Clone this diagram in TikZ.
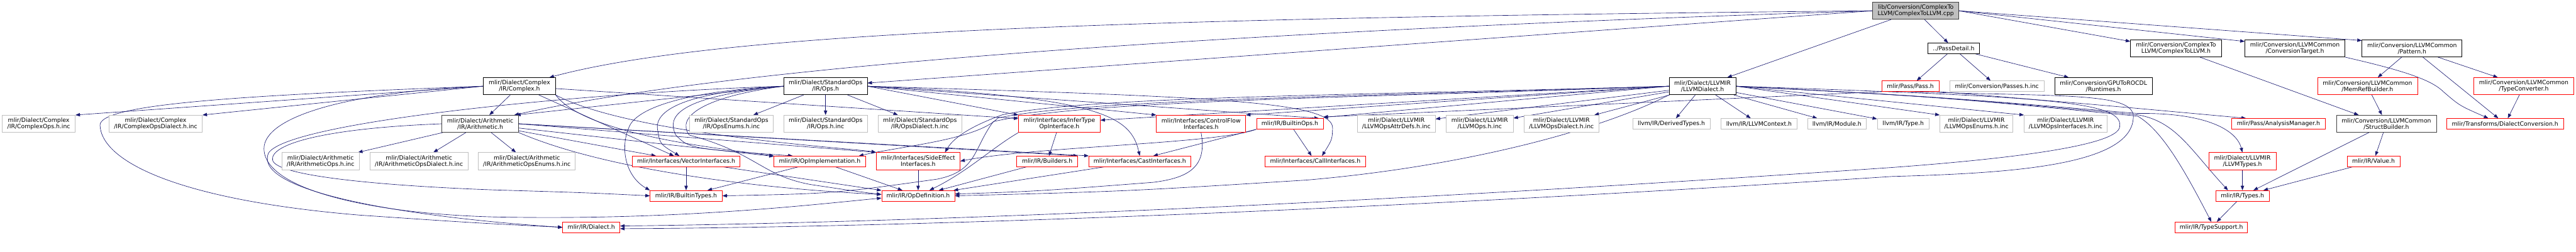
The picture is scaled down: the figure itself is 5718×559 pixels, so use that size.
\documentclass[tikz,border=0pt]{standalone}
\usepackage{fontspec}
\setmainfont{DejaVu Sans}
\usetikzlibrary{arrows.meta}
\definecolor{MidnightBlue}{RGB}{25,25,112}
\definecolor{DoxyGrey}{RGB}{191,191,191}
\definecolor{DoxyDark}{RGB}{64,64,64}
\definecolor{DoxyRed}{RGB}{255,0,0}
\pgfdeclarelayer{edges}
\pgfsetlayers{edges,main}
\tikzset{
  file/.style={rectangle,draw,fill=white,line width=1pt,inner xsep=3pt,inner ysep=1pt,
    align=center,font=\fontsize{13}{14}\selectfont},
  one/.style={minimum height=23.5pt},
  two/.style={minimum height=38pt},
  extfile/.style={file,draw=DoxyGrey},
  docfile/.style={file,draw=black},
  darkfile/.style={file,draw=DoxyDark},
  cutfile/.style={file,draw=DoxyRed},
  rootfile/.style={file,draw=DoxyDark,fill=DoxyGrey},
  dep/.style={->,MidnightBlue,line width=0.9pt},
}

\begin{document}
\begin{tikzpicture}[x=1pt,y=-1pt,>={Triangle[length=10pt,width=7.5pt]}]
\useasboundingbox (0,0) rectangle (5718,559);

\node[rootfile,two,minimum width=191pt] (m) at (4252.5,24) {lib/Conversion/ComplexTo\\LLVM/ComplexToLLVM.cpp};

\node[docfile,one,minimum width=115pt] (pd) at (4336.5,107.5) {../PassDetail.h};
\node[docfile,two,minimum width=202pt] (c2l) at (4830,107.5) {mlir/Conversion/ComplexTo\\LLVM/ComplexToLLVM.h};
\node[docfile,two,minimum width=222pt] (ct) at (5094,107.5) {mlir/Conversion/LLVMCommon\\/ConversionTarget.h};
\node[docfile,two,minimum width=222pt] (pat) at (5354,107.5) {mlir/Conversion/LLVMCommon\\/Pattern.h};

\node[docfile,two,minimum width=160pt] (cx) at (1153,191.5) {mlir/Dialect/Complex\\/IR/Complex.h};
\node[docfile,two,minimum width=185pt] (sops) at (1832.5,191.5) {mlir/Dialect/StandardOps\\/IR/Ops.h};
\node[docfile,two,minimum width=148pt] (lld) at (3779,191.5) {mlir/Dialect/LLVMIR\\/LLVMDialect.h};
\node[cutfile,one,minimum width=127pt] (pass) at (4240.5,191.5) {mlir/Pass/Pass.h};
\node[extfile,one,minimum width=209pt] (passinc) at (4432.5,191.5) {mlir/Conversion/Passes.h.inc};
\node[docfile,two,minimum width=216pt] (rt) at (4669,191.5) {mlir/Conversion/GPUToROCDL\\/Runtimes.h};
\node[cutfile,two,minimum width=222pt] (mrb) at (5255,191.5) {mlir/Conversion/LLVMCommon\\/MemRefBuilder.h};
\node[cutfile,two,minimum width=222pt] (tc) at (5602,191.5) {mlir/Conversion/LLVMCommon\\/TypeConverter.h};

\node[extfile,two,minimum width=162pt] (cops) at (86,275) {mlir/Dialect/Complex\\/IR/ComplexOps.h.inc};
\node[extfile,two,minimum width=207pt] (copsd) at (345.5,275) {mlir/Dialect/Complex\\/IR/ComplexOpsDialect.h.inc};
\node[darkfile,two,minimum width=170pt] (ar) at (1066,275) {mlir/Dialect/Arithmetic\\/IR/Arithmetic.h};
\node[extfile,two,minimum width=185pt] (opse) at (1623.5,275) {mlir/Dialect/StandardOps\\/IR/OpsEnums.h.inc};
\node[extfile,two,minimum width=185pt] (opsinc) at (1832.5,275) {mlir/Dialect/StandardOps\\/IR/Ops.h.inc};
\node[extfile,two,minimum width=186pt] (opsd) at (2042,275) {mlir/Dialect/StandardOps\\/IR/OpsDialect.h.inc};
\node[cutfile,two,minimum width=181pt] (infer) at (2351.5,275) {mlir/Interfaces/InferType\\OpInterface.h};
\node[cutfile,two,minimum width=198pt] (cf) at (2666,275) {mlir/Interfaces/ControlFlow\\Interfaces.h};
\node[cutfile,one,minimum width=148pt] (bops) at (2863,275) {mlir/IR/BuiltinOps.h};
\node[extfile,two,minimum width=173pt] (attr) at (3099.5,275) {mlir/Dialect/LLVMIR\\/LLVMOpsAttrDefs.h.inc};
\node[extfile,two,minimum width=149pt] (lops) at (3284.5,275) {mlir/Dialect/LLVMIR\\/LLVMOps.h.inc};
\node[extfile,two,minimum width=166pt] (lopsd) at (3466,275) {mlir/Dialect/LLVMIR\\/LLVMOpsDialect.h.inc};
\node[extfile,one,minimum width=172pt] (dty) at (3710,275) {llvm/IR/DerivedTypes.h};
\node[extfile,one,minimum width=169pt] (ctx) at (3904.5,275) {llvm/IR/LLVMContext.h};
\node[extfile,one,minimum width=131pt] (mod) at (4077.5,275) {llvm/IR/Module.h};
\node[extfile,one,minimum width=115pt] (ty) at (4224.5,275) {llvm/IR/Type.h};
\node[extfile,two,minimum width=162pt] (lenum) at (4387,275) {mlir/Dialect/LLVMIR\\/LLVMOpsEnums.h.inc};
\node[extfile,two,minimum width=184pt] (lif) at (4585,275) {mlir/Dialect/LLVMIR\\/LLVMOpsInterfaces.h.inc};
\node[cutfile,one,minimum width=207pt] (am) at (5057.5,275) {mlir/Pass/AnalysisManager.h};
\node[darkfile,two,minimum width=222pt] (sb) at (5297,275) {mlir/Conversion/LLVMCommon\\/StructBuilder.h};
\node[cutfile,one,minimum width=259pt] (dc) at (5560.5,275) {mlir/Transforms/DialectConversion.h};

\node[extfile,two,minimum width=171pt] (arops) at (711.5,358) {mlir/Dialect/Arithmetic\\/IR/ArithmeticOps.h.inc};
\node[extfile,two,minimum width=218pt] (aropsd) at (930,358) {mlir/Dialect/Arithmetic\\/IR/ArithmeticOpsDialect.h.inc};
\node[extfile,two,minimum width=215pt] (arope) at (1169.5,358) {mlir/Dialect/Arithmetic\\/IR/ArithmeticOpsEnums.h.inc};
\node[cutfile,one,minimum width=238pt] (vec) at (1523,358.5) {mlir/Interfaces/VectorInterfaces.h};
\node[cutfile,one,minimum width=203pt] (opimpl) at (1819.5,358.5) {mlir/IR/OpImplementation.h};
\node[cutfile,two,minimum width=186pt] (side) at (2038,358) {mlir/Interfaces/SideEffect\\Interfaces.h};
\node[cutfile,one,minimum width=135pt] (bld) at (2324.5,358.5) {mlir/IR/Builders.h};
\node[cutfile,one,minimum width=226pt] (cast) at (2530,358.5) {mlir/Interfaces/CastInterfaces.h};
\node[cutfile,one,minimum width=223pt] (call) at (2919.5,358.5) {mlir/Interfaces/CallInterfaces.h};
\node[cutfile,two,minimum width=149pt] (lty) at (4977.5,358) {mlir/Dialect/LLVMIR\\/LLVMTypes.h};
\node[cutfile,one,minimum width=117pt] (val) at (5268.5,358.5) {mlir/IR/Value.h};

\node[cutfile,one,minimum width=160pt] (bt) at (1523,435) {mlir/IR/BuiltinTypes.h};
\node[cutfile,one,minimum width=162pt] (opdef) at (2038,435) {mlir/IR/OpDefinition.h};
\node[cutfile,one,minimum width=119pt] (types) at (4977.5,435) {mlir/IR/Types.h};

\node[cutfile,one,minimum width=127pt] (dia) at (1312.5,505) {mlir/IR/Dialect.h};
\node[cutfile,one,minimum width=161pt] (tsup) at (4908.5,505) {mlir/IR/TypeSupport.h};

\begin{pgfonlayer}{edges}
% source file
\draw[dep] (m.west) .. controls (2500,40) and (1600,70) .. ([xshift=-14pt]cx.north east);
\draw[dep] (m.west) .. controls (3000,60) and (1700,130) .. ([xshift=-10pt]ar.north east);
\draw[dep] (m.west) -- ([yshift=7pt]sops.east);
\draw[dep] (m) -- (lld);
\draw[dep] (m) -- (pd);
\draw[dep] (m.east) -- ([yshift=-4pt]c2l.north west);
\draw[dep] (m.east) -- ([yshift=-4pt]ct.north west);
\draw[dep] (m.east) -- ([yshift=-2pt]pat.north west);

\foreach \dst in {pass,passinc,rt} \draw[dep] (pd) -- (\dst);

% Complex.h
\draw[dep] (cx.west) -- (cops.north east);
\draw[dep] (cx.west) -- (copsd.north east);
\draw[dep] (cx) -- (ar);
\draw[dep] (cx) -- (vec);
\draw[dep] (cx) -- ([yshift=-8pt]infer.north west);
\draw[dep] (cx.south east) .. controls (1300,300) and (1600,330) .. (opimpl.north west);
\draw[dep] (cx.south east) .. controls (1400,300) and (1900,330) .. (side.north west);
\draw[dep] (cx.west) .. controls (520,212) and (222,232) .. (222,278)
  .. controls (225,360) and (400,445) .. (800,478) .. controls (1050,495) .. (dia.west);
\draw[dep] (cx.west) .. controls (760,205) and (586,262) .. (586,330)
  .. controls (586,420) and (820,475) .. (1100,482)
  .. controls (1500,490) and (1800,455) .. ([yshift=-5pt]opdef.west);

% Arithmetic.h
\foreach \dst in {arops,aropsd,arope,vec,opimpl} \draw[dep] (ar) -- (\dst);
\draw[dep] (ar.east) -- (side.north west);
\draw[dep] (ar.east) -- (bld.north east);
\draw[dep] (ar.east) -- (cast.north west);
\draw[dep] (ar.west) .. controls (720,285) and (600,320) .. (605,355)
  .. controls (610,395) and (900,415) .. (1100,422) .. controls (1300,428) .. (bt.west);
\draw[dep] (ar.south east) .. controls (1350,380) and (1700,420) .. ([yshift=3pt]opdef.west);

% StandardOps/IR/Ops.h
\foreach \dst in {opse,opsinc,opsd} \draw[dep] (sops) -- (\dst);
\draw[dep] (sops.west) -- ([xshift=-6pt]ar.north east);
\draw[dep] (sops.east) -- (infer.north west);
\draw[dep] (sops.east) -- (cf.north west);
\draw[dep] (sops.east) -- ([xshift=-10pt]bops.north east);
\draw[dep] (sops.east) .. controls (2450,215) and (2510,260) .. (cast.north);
\draw[dep] (sops.east) .. controls (2700,215) and (2960,225) .. (2958,285)
  .. controls (2957,310) .. ([xshift=15pt]call.north);
\draw[dep] (sops.west) .. controls (1300,205) and (640,270) .. (596,340)
  .. controls (560,425) and (900,482) .. (dia.west);
\draw[dep] (sops.west) .. controls (1520,205) and (1450,245) .. (1460,290)
  .. controls (1465,320) .. ([xshift=-15pt]vec.north);
\draw[dep] (sops.west) .. controls (1500,215) and (1480,260) .. (1500,300)
  .. controls (1530,330) .. ([xshift=-60pt]opimpl.north);
\draw[dep] (sops.west) .. controls (1560,200) and (1430,230) .. (1400,275)
  .. controls (1375,320) and (1385,390) .. (bt.north west);
\draw[dep] (sops.west) .. controls (1560,215) and (1500,260) .. (1530,300)
  .. controls (1680,340) and (1690,390) .. (1800,410) .. controls (1900,425) .. ([yshift=3pt]opdef.west);

% LLVMIR/LLVMDialect.h
\foreach \dst in {attr,lops,lopsd,dty,ctx,mod,ty} \draw[dep] (lld) -- (\dst);
\draw[dep] (lld.east) -- (lenum.north west);
\draw[dep] (lld.east) -- (lif.north west);
\draw[dep] (lld.west) -- ([yshift=2pt]bops.north east);
\draw[dep] (lld.west) -- (cf.north east);
\draw[dep] (lld.west) -- ([yshift=8pt]infer.east);
\draw[dep] (lld.west) .. controls (3000,212) and (2420,214) .. (2225,255)
  .. controls (2170,275) and (2120,300) .. ([xshift=-34pt]side.north east);
\draw[dep] (lld.west) .. controls (3000,215) and (2420,220) .. (2215,262)
  .. controls (2170,310) and (2000,325) .. ([xshift=-15pt]opimpl.north east);
\draw[dep] (lld.west) .. controls (3000,218) and (2420,222) .. (2205,270)
  .. controls (2160,330) and (2170,380) .. (2080,398) .. controls (1850,430) .. (bt.east);
\draw[dep] (lld.south west) .. controls (3550,290) and (3250,370) .. (2900,400)
  .. controls (2500,425) .. (opdef.east);
\draw[dep] (lld.east) .. controls (4550,215) and (4715,225) .. (4705,282)
  .. controls (4700,320) and (4500,350) .. (4200,372)
  .. controls (3000,455) and (2000,495) .. ([yshift=3pt]dia.east);
\draw[dep] (lld.east) .. controls (4300,215) .. (4745,252)
  .. controls (4900,250) and (4965,290) .. (lty.north);
\draw[dep] (lld.east) .. controls (4300,215) .. (4745,255)
  .. controls (4830,270) and (4860,330) .. ([xshift=28pt]types.north west);
\draw[dep] (lld.east) .. controls (4300,215) .. (4745,258)
  .. controls (4800,290) and (4850,380) .. (tsup.north);

% Pass.h
\draw[dep] (pass.south west) -- ([yshift=3pt]bops.north east);
\draw[dep] (pass.south east) .. controls (4650,232) .. ([xshift=32pt]am.north west);
\draw[dep] (pass.south) .. controls (4600,215) and (4745,205) .. (4735,265)
  .. controls (4725,370) and (4450,385) .. (4200,392)
  .. controls (3000,470) and (2000,505) .. ([yshift=-3pt]dia.east);

% interfaces and IR
\draw[dep] (infer) -- (bld);
\draw[dep] (infer.south west) .. controls (2200,330) and (2150,380) .. ([xshift=25pt]opdef.north);
\draw[dep] (cf.south) .. controls (2680,370) and (2640,395) .. (2560,405)
  .. controls (2300,425) .. ([yshift=4pt]opdef.east);
\draw[dep] (bops) -- (call);
\draw[dep] (bops.south west) -- ([xshift=30pt]cast.north);
\draw[dep] (bops.south west) .. controls (2700,320) and (2300,325) .. (side.east);
\foreach \src in {cast,bld,side,opimpl,vec} \draw[dep] (\src) -- (opdef);
\foreach \src in {vec,opimpl} \draw[dep] (\src) -- (bt);

% conversion headers
\draw[dep] (c2l) -- ([xshift=50pt]sb.north west);
\draw[dep] (ct.south east) .. controls (5350,160) and (5400,180) .. (5425,205)
  .. controls (5460,235) .. ([xshift=-37pt]dc.north);
\foreach \dst in {mrb,dc,tc} \draw[dep] (pat) -- (\dst);
\draw[dep] (tc) -- (dc);
\draw[dep] (mrb) -- (sb);
\draw[dep] (sb) -- (val);
\draw[dep] (sb) -- (types);
\draw[dep] (val) -- (types);
\draw[dep] (lty) -- (types);
\draw[dep] (types) -- (tsup);
\end{pgfonlayer}
\end{tikzpicture}
\end{document}
